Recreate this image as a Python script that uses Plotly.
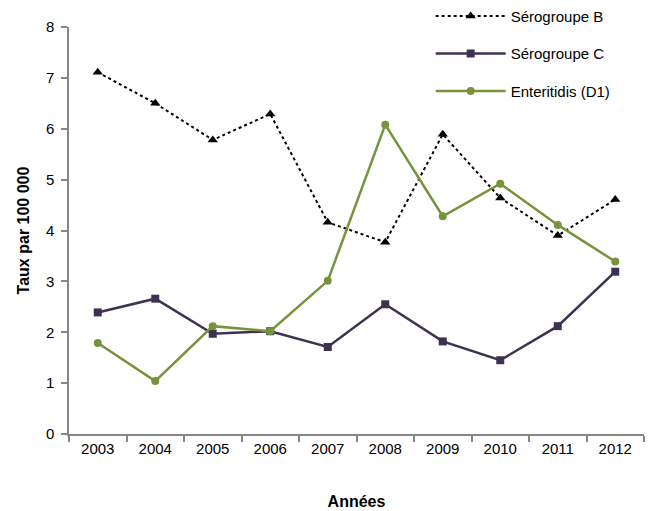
import plotly.graph_objects as go

annees = ["2003", "2004", "2005", "2006", "2007", "2008", "2009", "2010", "2011", "2012"]
serogroupe_b = [7.11, 6.50, 5.78, 6.29, 4.16, 3.77, 5.89, 4.64, 3.90, 4.61]
serogroupe_c = [2.39, 2.66, 1.97, 2.02, 1.71, 2.55, 1.82, 1.45, 2.12, 3.19]
enteritidis = [1.79, 1.04, 2.12, 2.02, 3.01, 6.08, 4.28, 4.92, 4.11, 3.39]

FONT = "Liberation Sans, Arial, sans-serif"
AXIS_GREY = "#868686"

fig = go.Figure()
fig.add_trace(go.Scatter(
    x=annees, y=serogroupe_b, name="Sérogroupe B", mode="lines+markers",
    legendgroup="b",
    line=dict(color="#000000", width=2, dash="dot"),
    marker=dict(symbol="triangle-up", size=9, color="#000000"),
))
fig.add_trace(go.Scatter(
    x=annees, y=serogroupe_c, name="Sérogroupe C", mode="lines+markers",
    legendgroup="c",
    line=dict(color="#3F3151", width=2.5),
    marker=dict(symbol="square", size=8, color="#3F3151"),
))
fig.add_trace(go.Scatter(
    x=annees, y=enteritidis, name="Enteritidis (D1)", mode="lines+markers",
    legendgroup="e",
    line=dict(color="#77933C", width=2.5),
    marker=dict(symbol="circle", size=8, color="#77933C"),
))

fig.update_layout(
    width=652, height=511,
    margin=dict(l=69, r=8, t=27, b=77, autoexpand=False),
    paper_bgcolor="white", plot_bgcolor="white",
    font=dict(family=FONT, size=15, color="#000000"),
    legend=dict(
        x=0.629, y=1.067, xanchor="left", yanchor="top",
        bgcolor="rgba(0,0,0,0)", tracegroupgap=15,
        itemwidth=70, font=dict(size=15, family=FONT),
    ),
    xaxis=dict(
        type="category", range=[-0.5, 9.5],
        showline=True, linecolor=AXIS_GREY, linewidth=1.5,
        ticks="outside", tickson="boundaries", ticklen=6, tickcolor=AXIS_GREY, tickwidth=1.5,
        showgrid=False, zeroline=False,
        tickfont=dict(size=15, family=FONT),
        title=dict(text="<b>Années</b>", font=dict(size=16, family=FONT), standoff=40),
    ),
    yaxis=dict(
        range=[0, 8], dtick=1,
        showline=True, linecolor=AXIS_GREY, linewidth=1.5,
        ticks="outside", ticklen=6, tickcolor=AXIS_GREY, tickwidth=1.5,
        showgrid=False, zeroline=False,
        tickfont=dict(size=15, family=FONT),
        ticklabelstandoff=4,
        title=dict(text="<b>Taux par 100 000</b>", font=dict(size=16, family=FONT), standoff=12),
    ),
)

fig.write_html("out.html")
